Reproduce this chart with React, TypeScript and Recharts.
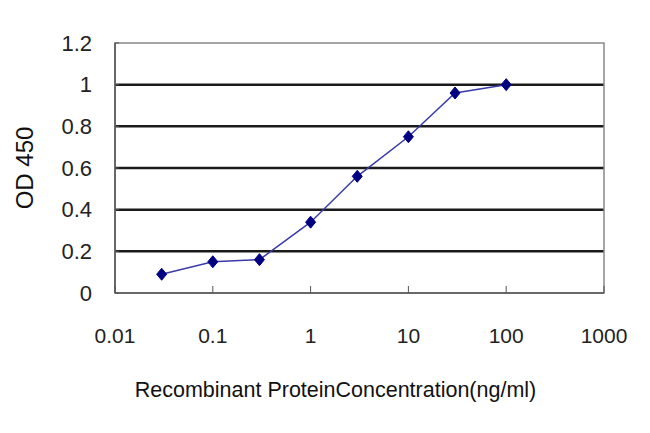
import {
  CartesianGrid,
  Line,
  LineChart,
  ReferenceArea,
  XAxis,
  YAxis,
} from "recharts";

// concentration (ng/ml) and OD 450
const concentrations = [0.03, 0.1, 0.3, 1, 3, 10, 30, 100];
const odValues = [0.09, 0.15, 0.16, 0.34, 0.56, 0.75, 0.96, 1.0];
const xTicks = [0.01, 0.1, 1, 10, 100, 1000];
const yTicks = [0, 0.2, 0.4, 0.6, 0.8, 1, 1.2];
const gridValues = [0.2, 0.4, 0.6, 0.8, 1];

const data = concentrations.map((c, i) => ({ conc: c, od: odValues[i] }));

const font = "'Liberation Sans', Arial, sans-serif";

function Diamond(props: any) {
  const { cx, cy, index } = props;
  if (cx == null || cy == null) return null;
  return (
    <path
      key={index}
      d={`M${cx},${cy - 6} L${cx + 5},${cy} L${cx},${cy + 6} L${cx - 5},${cy} Z`}
      fill="#000080"
      stroke="#000080"
    />
  );
}

export default function App() {
  return (
    <div
      style={{
        position: "absolute",
        left: 0,
        top: 0,
        width: 650,
        height: 433,
        background: "#fff",
        fontFamily: font,
      }}
    >
      <LineChart
        width={650}
        height={433}
        data={data}
        margin={{ top: 43, right: 46, bottom: 0, left: 0 }}
      >
        <CartesianGrid
          vertical={false}
          horizontalValues={gridValues}
          stroke="#1a1a1a"
          strokeWidth={2.5}
        />
        <ReferenceArea
          x1={0.01}
          x2={1000}
          y1={0}
          y2={1.2}
          fill="none"
          stroke="#888"
          strokeWidth={1.5}
        />
        <XAxis
          dataKey="conc"
          type="number"
          scale="log"
          domain={[0.01, 1000]}
          ticks={xTicks}
          allowDataOverflow
          height={140}
          tickSize={-7}
          tickMargin={42}
          axisLine={{ stroke: "#555", strokeWidth: 1.5 }}
          tickLine={{ stroke: "#555" }}
          tick={{ fill: "#222", fontSize: 21, fontFamily: font }}
          tickFormatter={(v: number) => String(v)}
          label={{
            value: "Recombinant ProteinConcentration(ng/ml)",
            position: "insideBottom",
            offset: 36,
            dx: -24,
            fill: "#111",
            fontSize: 21.5,
            fontFamily: font,
          }}
        />
        <YAxis
          type="number"
          domain={[0, 1.2]}
          ticks={yTicks}
          width={115}
          tickSize={-4}
          tickMargin={27}
          axisLine={{ stroke: "#555", strokeWidth: 1.5 }}
          tickLine={{ stroke: "#555" }}
          tick={{ fill: "#222", fontSize: 22, fontFamily: font }}
          label={{
            value: "OD 450",
            angle: -90,
            position: "insideLeft",
            offset: 24,
            fill: "#111",
            fontSize: 24,
            fontFamily: font,
            style: { textAnchor: "middle" },
          }}
        />
        <Line
          dataKey="od"
          stroke="#3a3aa8"
          strokeWidth={1.5}
          dot={Diamond}
          activeDot={false}
          isAnimationActive={false}
        />
      </LineChart>
    </div>
  );
}
